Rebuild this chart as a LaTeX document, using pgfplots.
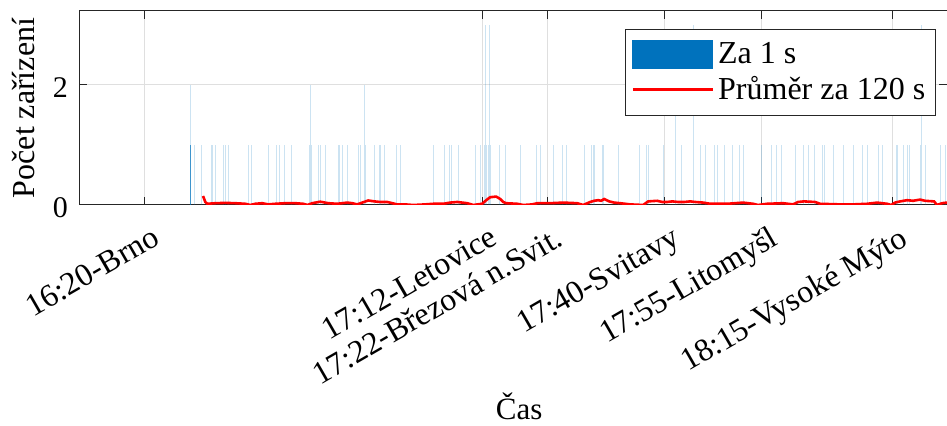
\documentclass[border=0pt]{standalone}
\usepackage{pgfplots}
\pgfplotsset{compat=1.18}
\usepackage{pgfplotstable}
\usepackage{fontspec}
\setmainfont{Liberation Serif}
\definecolor{mblue}{RGB}{0,114,189}
\definecolor{maxis}{RGB}{38,38,38}
\definecolor{mgrid}{RGB}{223,223,223}

% bars: minutes after 16:20, devices per second
\pgfplotstableread{
x y
7.16 2
7.73 1
8.76 1
10.30 1
10.60 1
10.91 1
12.14 1
12.54 1
13.00 1
16.07 1
16.54 1
19.15 1
20.29 1
20.75 1
21.52 1
22.64 1
25.51 1
25.60 2
25.71 1
26.89 1
27.14 1
27.91 1
29.97 1
30.12 1
30.58 1
31.29 1
33.04 1
33.29 1
33.90 2
34.06 1
35.44 1
36.27 1
36.42 1
36.98 1
38.88 1
39.39 1
44.51 1
46.20 1
46.92 1
47.33 1
48.30 1
50.91 1
51.68 1
52.34 1
52.45 3
52.71 1
53.02 1
53.11 3
53.33 1
54.60 1
55.53 1
57.88 1
60.29 1
60.90 1
62.95 1
64.39 1
64.95 1
67.67 1
68.85 1
69.10 1
69.31 1
70.43 1
70.63 1
72.94 1
76.16 1
77.30 1
77.61 1
79.85 1
81.65 2
82.62 1
84.46 3
84.52 1
85.54 1
86.31 1
87.69 1
88.21 1
89.29 1
90.52 1
91.59 1
92.10 1
94.87 1
96.45 1
97.22 1
97.94 1
100.20 1
101.37 1
102.14 1
103.01 1
104.29 1
104.66 1
105.93 1
107.52 1
109.05 1
110.50 1
111.20 1
112.85 1
113.51 1
115.62 1
115.87 1
116.80 1
117.41 1
117.72 1
119.35 1
119.46 3
120.12 1
122.42 1
123.19 1
}\bars

% moving average over 120 s
\pgfplotstableread{
x y
9.07 0.15
9.42 0.05
9.73 0.02
10.96 0.03
12.49 0.035
14.03 0.03
15.57 0.02
16.34 0.0
17.10 0.02
18.18 0.03
19.10 0.01
20.18 0.02
21.71 0.03
23.25 0.03
24.48 0.02
25.10 0.0
25.86 0.03
27.09 0.055
28.32 0.03
29.71 0.02
31.24 0.04
32.01 0.03
32.78 0.01
33.55 0.04
34.47 0.075
35.39 0.06
36.31 0.05
37.39 0.05
38.16 0.03
38.93 0.01
40.16 0.01
41.39 0.0
43.23 0.01
44.46 0.02
46.00 0.02
47.07 0.04
48.15 0.05
49.68 0.03
50.61 0.0
51.99 0.02
52.61 0.08
53.22 0.13
54.14 0.14
54.76 0.1
55.22 0.05
55.68 0.03
57.37 0.02
58.29 0.0
59.68 0.01
60.44 0.03
62.44 0.03
64.44 0.04
66.59 0.03
67.51 0.0
68.59 0.05
69.20 0.07
69.82 0.08
70.28 0.07
70.74 0.1
71.51 0.06
72.28 0.04
73.20 0.03
74.74 0.01
76.74 0.0
77.51 0.06
78.89 0.07
79.66 0.05
80.43 0.05
81.20 0.06
82.12 0.05
83.05 0.05
83.97 0.06
84.74 0.05
85.97 0.04
87.05 0.02
89.66 0.02
92.10 0.04
93.64 0.02
94.41 0.0
95.79 0.02
98.25 0.03
99.78 0.01
100.55 0.05
101.47 0.06
103.17 0.05
103.94 0.02
107.02 0.01
109.02 0.01
111.17 0.02
112.71 0.04
114.24 0.02
114.86 0.0
115.47 0.04
116.24 0.06
117.32 0.08
118.24 0.07
119.31 0.09
120.08 0.07
121.46 0.06
121.92 0.0
122.69 0.03
123.45 0.04
}\avg

\begin{document}
\begin{tikzpicture}
\path[use as bounding box] (0,0) rectangle (473.5pt,213pt);
\begin{axis}[
  at={(39.5pt,110.5pt)}, anchor=south west,
  scale only axis, width=434pt, height=97pt,
  xmin=-10, xmax=123.45, ymin=0, ymax=3.233,
  axis line style={maxis, line width=0.5pt},
  xtick={0,52,62,80,95,115},
  xticklabels={16:20-Brno,17:12-Letovice,17:22-Březová n.Svit.,17:40-Svitavy,17:55-Litomyšl,18:15-Vysoké Mýto},
  ytick={0,2},
  tick align=inside, major tick length=4pt, tick pos=both,
  tick style={maxis, line width=0.5pt},
  grid=major, major grid style={mgrid, line width=0.5pt},
  xticklabel style={rotate=30, anchor=north east, font=\fontsize{16}{18}\selectfont, inner sep=1pt, xshift=-1pt, yshift=-9pt},
  yticklabel style={font=\fontsize{15}{17}\selectfont, xshift=-2pt, yshift=-1.5pt},
  /pgf/number format/assume math mode=true,
  ylabel={Počet zařízení},
  ylabel style={at={(axis description cs:-0.0634,0.5)}, anchor=center, font=\fontsize{16}{18}\selectfont},
  xlabel={Čas},
  xlabel style={at={(axis description cs:0.507,-1.04)}, anchor=center, font=\fontsize{15.5}{17}\selectfont},
  legend style={at={(axis description cs:0.987,0.907)}, anchor=north east,
    font=\fontsize{16}{18}\selectfont, draw=maxis, line width=0.5pt,
    nodes={inner sep=2pt}, inner xsep=3pt, inner ysep=4.5pt, row sep=1pt},
  legend cell align=left,
]
\addplot[ycomb, draw=mblue, draw opacity=0.2, line width=0.5pt, forget plot] table[x=x,y=y] {\bars};
\addplot[ycomb, draw=mblue, draw opacity=0.7, line width=0.5pt, forget plot] coordinates {(7.10,1) (7.16,1) (7.20,1)};
\addlegendimage{legend image code/.code={\fill[mblue] (0pt,-7pt) rectangle (40pt,7pt);}}
\addlegendentry{Za 1 s}
\addplot[red, line width=1.3pt, no marks, legend image code/.code={\draw[red, line width=1.25pt] (0pt,0pt) -- (40pt,0pt);}] table[x=x,y=y] {\avg};
\addlegendentry{Průměr za 120 s}
\end{axis}
\end{tikzpicture}
\end{document}
